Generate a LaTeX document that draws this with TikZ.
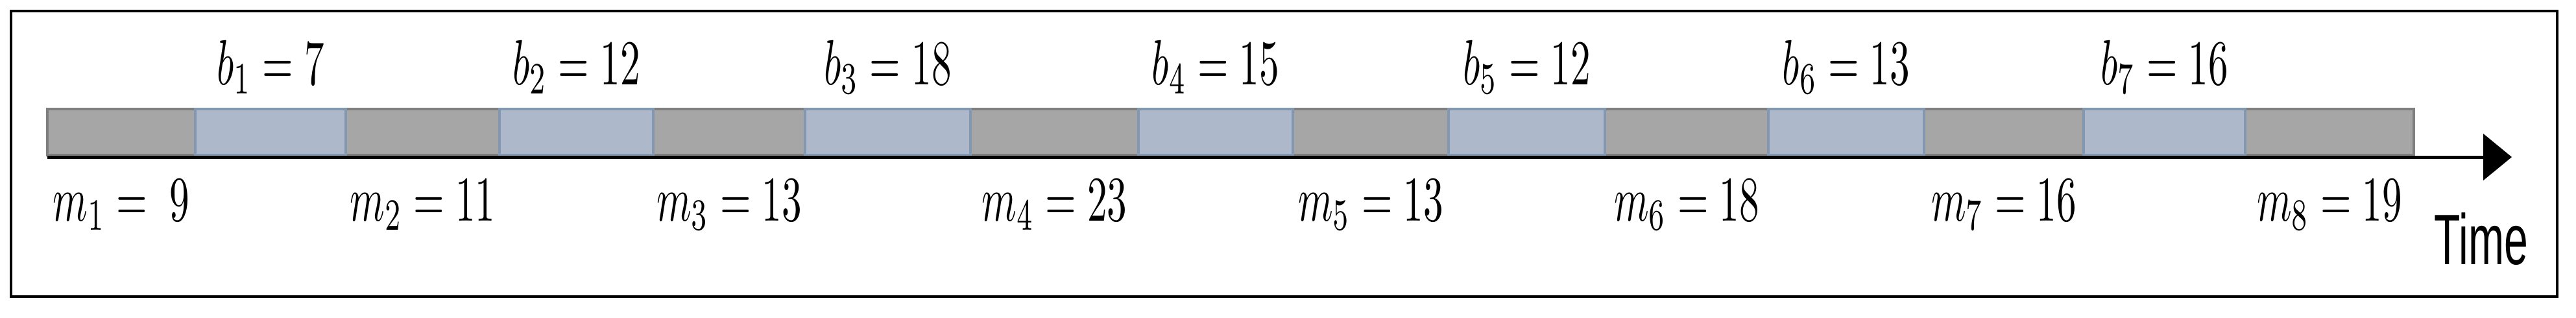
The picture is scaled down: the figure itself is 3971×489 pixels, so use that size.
\documentclass[tikz,border=0pt]{standalone}
\usepackage{fontspec}
\newfontfamily\timefont{Liberation Sans}
\usetikzlibrary{arrows.meta}
\definecolor{segGray}{HTML}{A6A6A6}
\definecolor{segGrayDark}{HTML}{7F7F7F}
\definecolor{segBlue}{HTML}{ADB9CA}
\definecolor{segBlueDark}{HTML}{8497B0}
\begin{document}
\begin{tikzpicture}[x=0.1mm,y=0.1mm,
    mseg/.style={fill=segGray,draw=segGrayDark,line width=0.4mm},
    bseg/.style={fill=segBlue,draw=segBlueDark,line width=0.4mm},
    lbl/.style={anchor=base,inner sep=0pt,xscale=1.74,yscale=2.8}]
  \useasboundingbox (0,0) rectangle (3971,489);
  \draw[line width=0.35mm] (17,32) rectangle (3942,472);
  \foreach \l/\r/\v [count=\i] in {73/301/\;9, 533/770/11, 1007/1241/13, 1496/1755/23,
      1993/2233/13, 2474/2726/18, 2966/3212/16, 3461/3721/19}{
    \draw[mseg] (\l,250) rectangle (\r,321);
    \node[lbl] (m\i) at ({(\l+\r)/2},149) {$m_{\i} = \v$};
  }
  \foreach \l/\r/\v [count=\i] in {301/533/7, 770/1007/12, 1241/1496/18, 1755/1993/15,
      2233/2474/12, 2726/2966/13, 3212/3461/16}{
    \draw[bseg] (\l,250) rectangle (\r,321);
    \node[lbl] (b\i) at ({(\l+\r)/2},359) {$b_{\i} = \v$};
  }
  \coordinate (t0) at (73,247);
  \coordinate (t1) at (3872,247);
  \draw[line width=0.5mm,-{Triangle[length=4.4mm,width=7.1mm]}] (t0) -- (t1);
  \node[anchor=base,inner sep=0pt,font=\timefont,xscale=1.88,yscale=3.13] (time) at (3825,82) {Time};
\end{tikzpicture}
\end{document}
